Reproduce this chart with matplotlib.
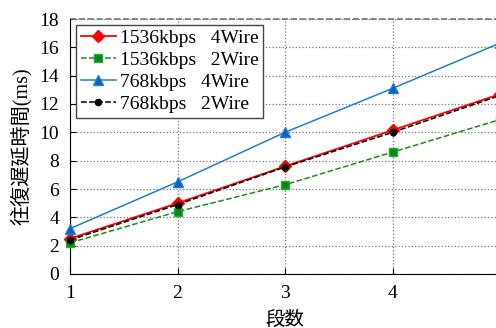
import matplotlib
matplotlib.use('Agg')
import matplotlib.pyplot as plt

plt.rcParams['font.family'] = ['Liberation Serif', 'Noto Sans CJK JP']

stages = [1, 2, 3, 4, 5]
kbps1536_4w = [2.5, 5.0, 7.6, 10.15, 12.7]
kbps1536_2w = [2.2, 4.4, 6.3, 8.6, 10.9]
kbps768_4w = [3.2, 6.5, 10.0, 13.1, 16.3]
kbps768_2w = [2.4, 4.9, 7.55, 10.0, 12.6]

fig = plt.figure(figsize=(4.96, 3.28), dpi=100)
ax = fig.add_axes([70 / 496, 54 / 328, 430 / 496, 255 / 328])

ax.plot(stages, kbps1536_4w, color='#ff0000', marker='D', markersize=6, lw=1.3,
        label='1536kbps   4Wire', clip_on=False, zorder=3)
ax.plot(stages, kbps1536_2w, color='#1a8c1a', marker='s', markersize=6, lw=1.1,
        ls='--', markerfacecolor='#0a8a0a', markeredgecolor='#22aa44',
        label='1536kbps   2Wire', clip_on=False, zorder=3)
ax.plot(stages, kbps768_4w, color='#1f7fd0', marker='^', markersize=7, lw=1.1,
        markerfacecolor='#1060c0', label='768kbps   4Wire', clip_on=False, zorder=3)
ax.plot(stages, kbps768_2w, color='black', marker='o', markersize=4.5, lw=1.1,
        ls='--', label='768kbps   2Wire', clip_on=False, zorder=4)

ax.set_xlim(1, 5)
ax.set_ylim(0, 18)
ax.set_xticks(stages)
ax.set_yticks(range(0, 19, 2))
ax.tick_params(direction='in', labelsize=14, length=4)
ax.tick_params(axis='x', pad=8)
ax.tick_params(axis='y', pad=8)
ax.grid(True, ls=':', color='#777777', lw=0.9)
ax.spines['top'].set_visible(False)
ax.spines['right'].set_visible(False)
ax.axhline(18, color='#777777', ls='--', lw=1.2, clip_on=False)

ax.set_xlabel('段数', fontsize=14, labelpad=6)
ax.set_ylabel('往復遅延時間(ms)', fontsize=14.5, labelpad=5)

leg = ax.legend(loc='upper left', fontsize=14, fancybox=False, framealpha=1,
                edgecolor='#444444', handlelength=1.8, handletextpad=0.2,
                borderpad=0.25, labelspacing=0.22, borderaxespad=0.3)
leg.get_frame().set_linewidth(1.0)

fig.savefig('out.png', dpi=100)
